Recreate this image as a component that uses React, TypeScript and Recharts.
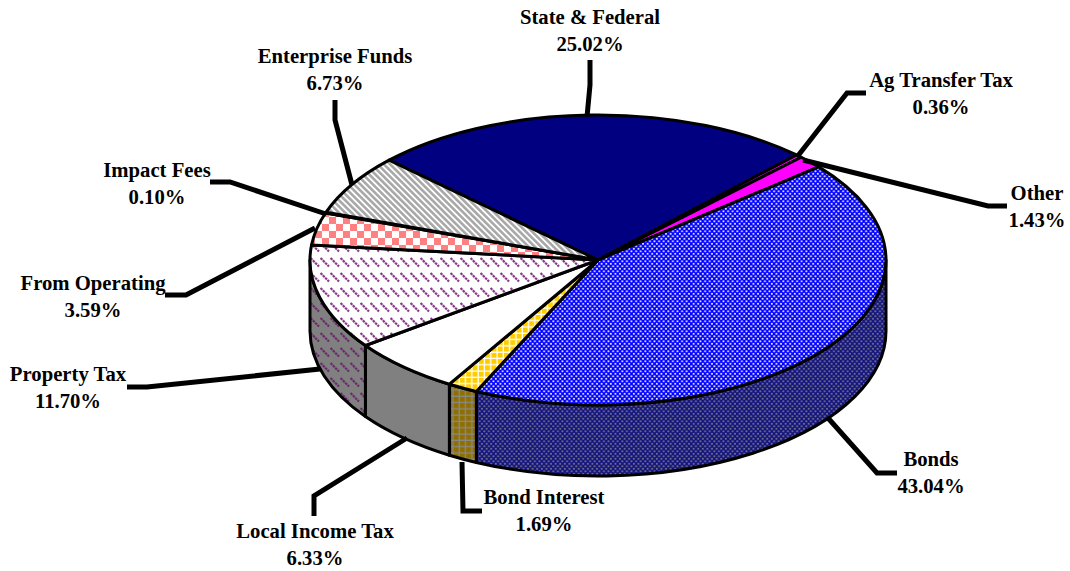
import React from 'react';
import { Pie, PieChart } from 'recharts';

const categories = [
  'State & Federal',
  'Ag Transfer Tax',
  'Other',
  'Bonds',
  'Bond Interest',
  'Local Income Tax',
  'Property Tax',
  'From Operating',
  'Impact Fees',
  'Enterprise Funds',
];
const shares = [25.02, 0.36, 1.43, 43.04, 1.69, 6.33, 11.7, 3.59, 0.1, 6.73];

const topFills = [
  '#000080',
  '#ff00ff',
  '#ff00ff',
  'url(#dotsBlue)',
  'url(#gridGold)',
  '#ffffff',
  'url(#dashPurple)',
  'url(#checkPink)',
  'url(#checkPink)',
  'url(#stripeGray)',
];
const wallFills = [
  '#000080',
  '#800080',
  '#800080',
  'url(#dotsNavy)',
  'url(#gridBrown)',
  '#808080',
  'url(#dashGray)',
  '#808080',
  '#808080',
  '#808080',
];

// label centre x, first baseline y, then the leader line
const labelSpots = [
  { x: 590, y: 24, line: '590,60 590,85 587,117' },
  { x: 941, y: 87, line: '866,93 847,93 797,157' },
  { x: 1037, y: 200, line: '1007,206 988,206 803,160' },
  { x: 931, y: 466, line: '897,473 877,473 828,418' },
  { x: 544, y: 504, line: '482,511 463,511 462,462' },
  { x: 315, y: 538, line: '314,516 314,496 407,438' },
  { x: 68, y: 381, line: '127,387 147,387 320,369' },
  { x: 93, y: 290, line: '165,295 186,295 315,228' },
  { x: 157, y: 177, line: '210,182 230,182 326,214' },
  { x: 335, y: 63, line: '335,100 335,120 352,185' },
];

const tableData = categories.map((name, i) => ({ name, value: shares[i] }));

const SQUASH = 145 / 288;
const DEPTH = 71;

const point = (cx: number, cy: number, r: number, deg: number) => {
  const a = (deg * Math.PI) / 180;
  return [cx + r * Math.cos(a), cy - r * SQUASH * Math.sin(a)];
};

function Slice3D(props: any) {
  const { cx, cy, outerRadius: r, startAngle, endAngle, index } = props;
  const ry = r * SQUASH;
  const [x1, y1] = point(cx, cy, r, startAngle);
  const [x2, y2] = point(cx, cy, r, endAngle);
  const large = Math.abs(startAngle - endAngle) > 180 ? 1 : 0;
  const top = `M${cx},${cy} L${x1},${y1} A${r},${ry} 0 ${large} 1 ${x2},${y2} Z`;

  // only the front half of the rim shows a wall
  const from = Math.min(startAngle, 0);
  const to = Math.max(endAngle, -180);
  let wall = null;
  if (from > to) {
    const [wx1, wy1] = point(cx, cy, r, from);
    const [wx2, wy2] = point(cx, cy, r, to);
    const d = `M${wx1},${wy1} A${r},${ry} 0 0 1 ${wx2},${wy2} L${wx2},${wy2 + DEPTH} A${r},${ry} 0 0 0 ${wx1},${wy1 + DEPTH} Z`;
    wall = <path d={d} fill={wallFills[index]} stroke="#000" strokeWidth={3} strokeLinejoin="round" />;
  }
  return (
    <g>
      {wall}
      <path d={top} fill={topFills[index]} stroke="#000" strokeWidth={3} strokeLinejoin="round" />
    </g>
  );
}

function LeaderLine(props: any) {
  return <polyline points={labelSpots[props.index].line} fill="none" stroke="#000" strokeWidth={5} />;
}

function SliceLabel(props: any) {
  const spot = labelSpots[props.index];
  return (
    <text
      textAnchor="middle"
      fontFamily="'Liberation Serif', serif"
      fontWeight="bold"
      fontSize={20.7}
      fill="#000"
    >
      <tspan x={spot.x} y={spot.y}>
        {categories[props.index]}
      </tspan>
      <tspan x={spot.x} y={spot.y + 27}>
        {shares[props.index].toFixed(2)}%
      </tspan>
    </text>
  );
}

export default function App() {
  return (
    <div style={{ position: 'absolute', left: 0, top: 0, width: 1070, height: 571, background: '#fff' }}>
      <PieChart width={1070} height={571} margin={{ top: 0, right: 0, bottom: 0, left: 0 }}>
        <defs>
          <pattern id="dotsBlue" width="4.6" height="5" patternUnits="userSpaceOnUse">
            <rect width="4.6" height="5" fill="#0000ff" />
            <rect x="0.4" y="0.4" width="1.8" height="1.8" fill="#e4e4ff" />
            <rect x="2.7" y="2.9" width="1.8" height="1.8" fill="#e4e4ff" />
          </pattern>
          <pattern id="dotsNavy" width="4.6" height="5" patternUnits="userSpaceOnUse">
            <rect width="4.6" height="5" fill="#14147e" />
            <rect x="0.4" y="0.4" width="1.8" height="1.8" fill="#70708c" />
            <rect x="2.7" y="2.9" width="1.8" height="1.8" fill="#70708c" />
          </pattern>
          <pattern id="gridGold" width="6.3" height="6.3" patternUnits="userSpaceOnUse">
            <rect width="6.3" height="6.3" fill="#ffffff" />
            <rect width="5" height="5" fill="#ffcc00" />
          </pattern>
          <pattern id="gridBrown" width="6.3" height="6.3" patternUnits="userSpaceOnUse">
            <rect width="6.3" height="6.3" fill="#888888" />
            <rect width="5" height="5" fill="#8f6f00" />
          </pattern>
          <pattern id="dashPurple" width="10" height="15" patternUnits="userSpaceOnUse">
            <rect width="10" height="15" fill="#ffffff" />
            <line x1="0.5" y1="3" x2="9" y2="11.5" stroke="#8a3a8a" strokeWidth="2.2" strokeDasharray="2.6 0.7" />
          </pattern>
          <pattern id="dashGray" width="10" height="15" patternUnits="userSpaceOnUse">
            <rect width="10" height="15" fill="#808080" />
            <line x1="0.5" y1="3" x2="9" y2="11.5" stroke="#6b2a6b" strokeWidth="2.2" strokeDasharray="2.6 0.7" />
          </pattern>
          <pattern id="checkPink" width="14" height="14" patternUnits="userSpaceOnUse">
            <rect width="14" height="14" fill="#ffffff" />
            <rect width="7" height="7" fill="#ff8080" />
            <rect x="7" y="7" width="7" height="7" fill="#ff8080" />
          </pattern>
          <pattern
            id="stripeGray"
            width="4.4"
            height="4.4"
            patternUnits="userSpaceOnUse"
            patternTransform="rotate(-45)"
          >
            <rect width="4.4" height="4.4" fill="#ffffff" />
            <rect width="2.6" height="4.4" fill="#a8a8a8" />
          </pattern>
        </defs>
        <Pie
          data={tableData}
          dataKey="value"
          nameKey="name"
          cx={598}
          cy={260}
          innerRadius={0}
          outerRadius={288}
          startAngle={136.5}
          endAngle={-223.5}
          paddingAngle={0}
          shape={Slice3D}
          label={SliceLabel}
          labelLine={LeaderLine}
          isAnimationActive={false}
        />
      </PieChart>
    </div>
  );
}
